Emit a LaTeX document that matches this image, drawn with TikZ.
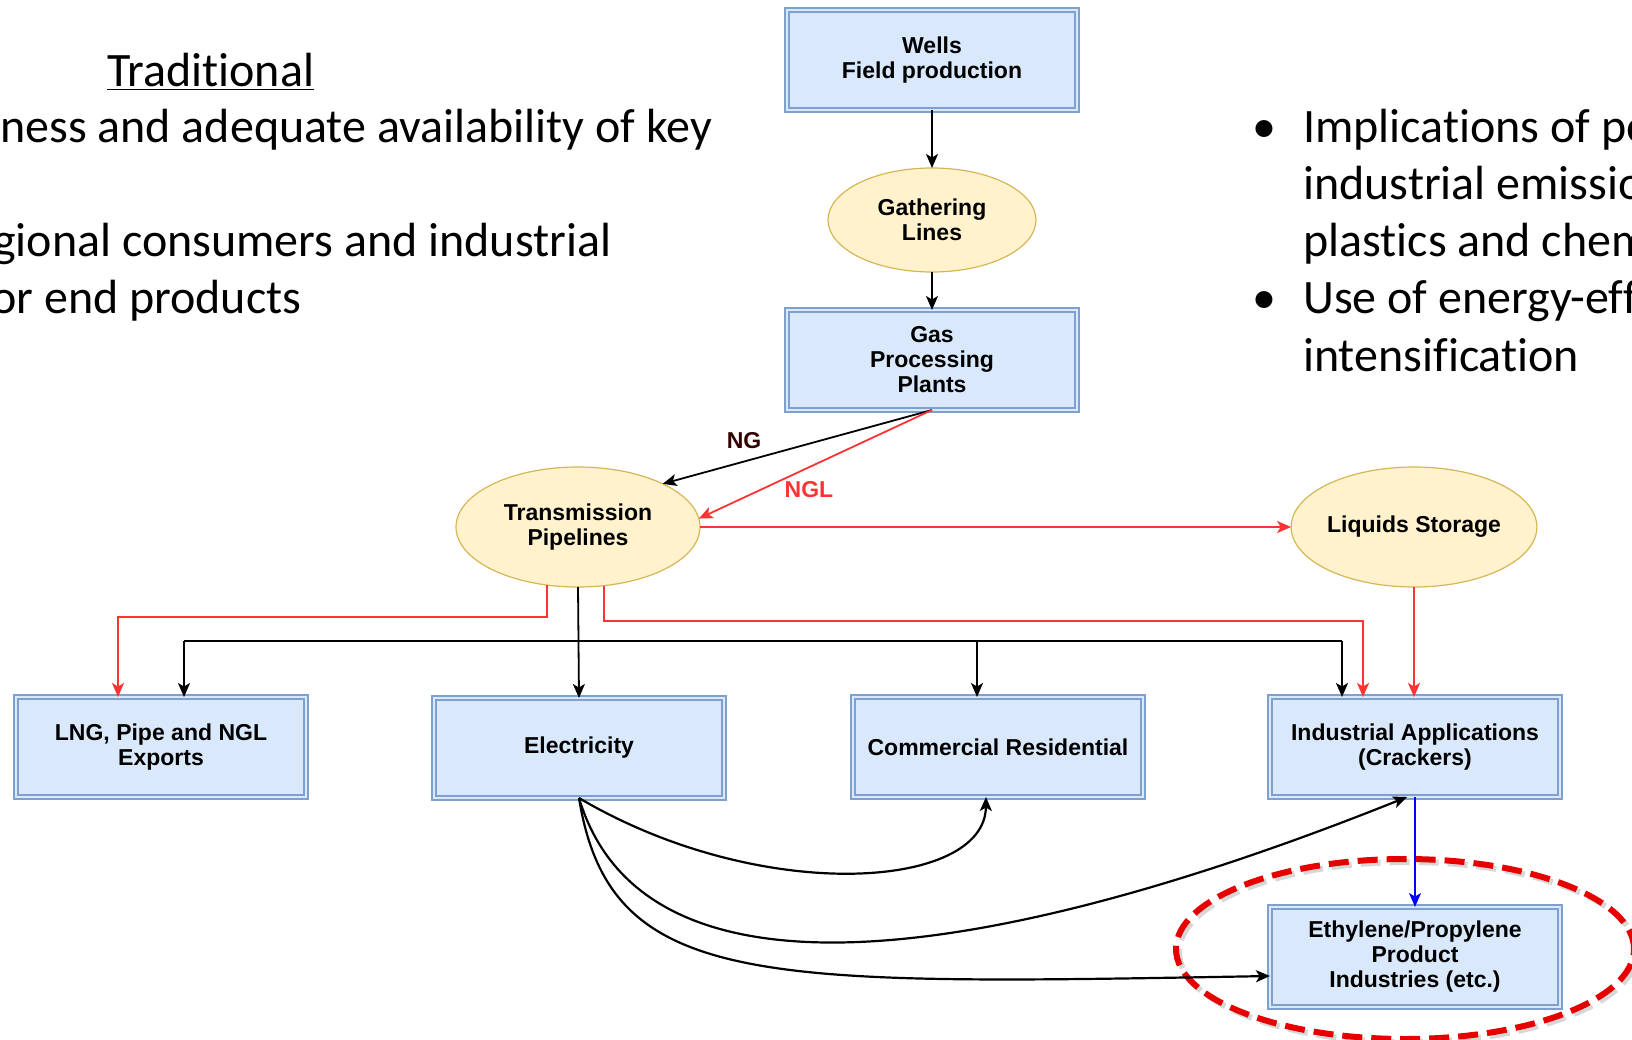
\documentclass[tikz,border=0pt]{standalone}
\usepackage{fontspec}
\setmainfont{Liberation Sans}
\newfontfamily\slidefont[Ligatures={NoCommon,NoRequired,NoContextual}]{Carlito}
\usetikzlibrary{arrows.meta,shapes.geometric,calc}

\definecolor{boxfill}{HTML}{DAE8FC}
\definecolor{boxline}{HTML}{7EA0CF}
\definecolor{ovalfill}{HTML}{FFF2CC}
\definecolor{ovalline}{HTML}{D6B656}
\definecolor{nglred}{HTML}{FF3333}
\definecolor{ngtext}{HTML}{330000}
\definecolor{flowblue}{HTML}{0000FF}
\definecolor{ringred}{HTML}{E60000}

\newcommand\diagfont{\fontsize{23}{25}\selectfont\bfseries}
\newcommand\bigtext{\slidefont\fontsize{48}{57}\selectfont}

\begin{document}
\begin{tikzpicture}[x=1pt,y=-1pt,
  box/.style={rectangle, draw=boxline, double=boxfill, double distance=2.5pt,
    line width=1.3pt, fill=boxfill, minimum width=290pt, minimum height=100pt,
    inner sep=0pt, outer sep=0pt, align=center, font=\diagfont},
  oval/.style={ellipse, draw=ovalline, fill=ovalfill, line width=1.2pt,
    minimum width=244pt, minimum height=120pt,
    inner sep=0pt, outer sep=0pt, align=center, font=\diagfont},
  link/.style={line width=1.8pt, -{Stealth[length=14pt,width=12pt,inset=3.5pt]}},
  bus/.style={line width=1.8pt},
  slide/.style={anchor=base west, inner sep=0pt, font=\bigtext},
  flowlabel/.style={font=\fontsize{23}{25}\selectfont\bfseries, inner sep=1pt}]

\useasboundingbox (0,0) rectangle (1632,1040);
\clip (0,0) rectangle (1632,1040);

% slide text, left column
\node[slide] (trad) at (107,87) {\underline{Traditional}};
\node[slide] (l1) at (0,143) {ness and adequate availability of key};
\node[slide] (l2) at (-7,257) {gional consumers and industrial};
\node[slide] (l3) at (-9,314) {or end products};

% slide text, right column
\node[slide] (b1) at (1252,143) {•};
\node[slide] (r1) at (1303,143) {Implications of po};
\node[slide] (r2) at (1303,200) {industrial emissio};
\node[slide] (r3) at (1303,257) {plastics and chem};
\node[slide] (b2) at (1252,314) {•};
\node[slide] (r4) at (1303,314) {Use of energy-eff};
\node[slide] (r5) at (1303,371) {intensification};

% supply chain
\node[box] (wells) at (932,60) {Wells\\Field production};
\node[oval, minimum width=208pt, minimum height=104pt] (gather) at (932,220) {Gathering\\Lines};
\node[box] (gas) at (932,360) {Gas\\Processing\\Plants};
\node[oval] (trans) at (578,527) {Transmission\\Pipelines};
\node[oval] (liq) at (1414,527) {Liquids Storage};

\node[box] (lng) at (161,747) {LNG, Pipe and NGL\\Exports};
\node[box] (elec) at (579,748) {Electricity};
\node[box] (comm) at (998,747) {Commercial Residential};
\node[box] (ind) at (1415,747) {Industrial Applications\\(Crackers)};
\node[box] (eth) at (1415,957) {Ethylene/Propylene\\Product\\Industries (etc.)};

% highlight ring with its soft shadow
\node[ellipse, draw=black!35, opacity=0.45, line width=6pt, dash pattern=on 20pt off 9pt,
  minimum width=458pt, minimum height=180pt] (focusshade) at (1408,952) {};
\node[ellipse, draw=ringred, line width=6pt, dash pattern=on 20pt off 9pt,
  minimum width=458pt, minimum height=180pt] (focus) at (1405,949) {};

% upstream
\draw[link] (wells.south) -- (gather.north);
\draw[link] (gather.south) -- (gas.north);
\draw[link] (gas.south) -- (trans.27);
\draw[link, nglred] (gas.south) -- (trans.4);
\node[flowlabel, text=ngtext] (nglab) at (744,441) {NG};
\node[flowlabel, text=nglred] (ngllab) at (809,490) {NGL};
\draw[link, nglred] (trans.east) -- (liq.west);

% natural gas distribution
\coordinate (busL) at (184,641);
\coordinate (busC) at (977,641);
\coordinate (busR) at (1342,641);
\draw[link] (trans.south) -- (elec.north);
\draw[bus] (busL) -- (busR);
\draw[link] (busL) -- (busL |- lng.north);
\draw[link] (busC) -- (busC |- comm.north);
\draw[link] (busR) -- (busR |- ind.north);

% liquids distribution
\coordinate (redL) at (118,617);
\coordinate (redR) at (1363,621);
\draw[link, nglred] (trans.-118) |- (redL) -- (redL |- lng.north);
\draw[link, nglred] (trans.-66) |- (redR) -- (redR |- ind.north);
\draw[link, nglred] (liq.south) -- (liq.south |- ind.north);
\draw[link, flowblue, line width=1.2pt] (ind.south) -- (eth.north);

% power supply
\draw[link, line width=2.2pt] (elec.south) .. controls (760,905) and (985,890) .. ($(comm.south)+(-12,0)$);
\draw[link, line width=2.2pt] (elec.south) .. controls (650,1035) and (1050,940) .. ($(ind.south)+(-8,0)$);
\draw[link, line width=2.2pt] (elec.south) .. controls (610,990) and (760,985) .. ($(eth.west)+(0,19)$);

\end{tikzpicture}
\end{document}
